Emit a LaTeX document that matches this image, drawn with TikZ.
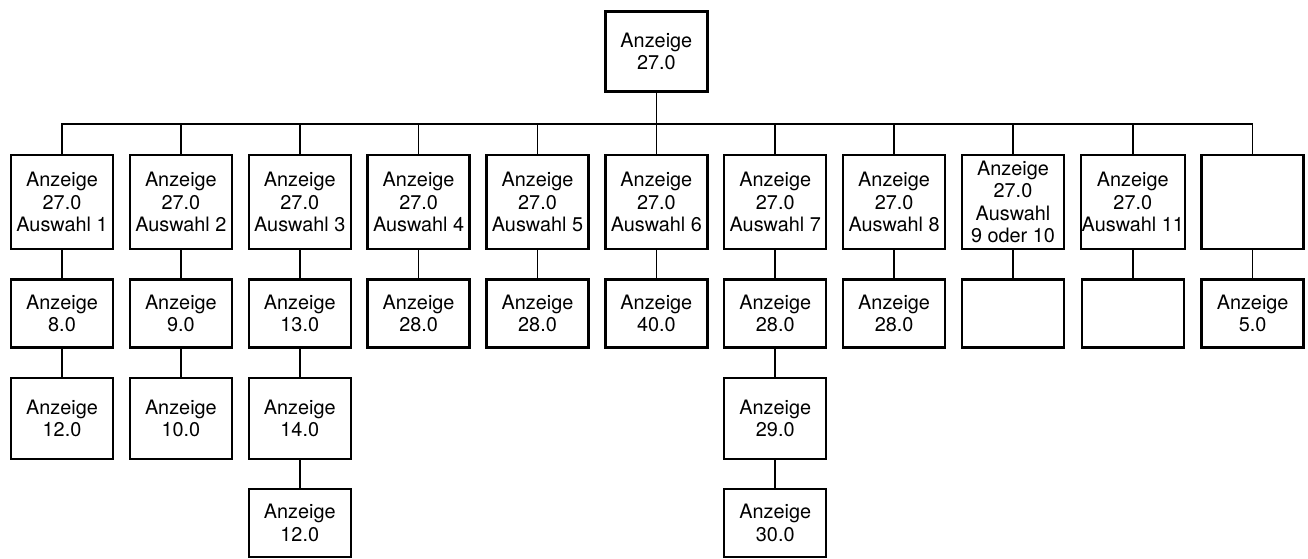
\documentclass[tikz,border=0pt]{standalone}
\usepackage{fontspec}
\setmainfont{TeX Gyre Heros}
\usetikzlibrary{positioning}

\begin{document}
\begin{tikzpicture}[
  font=\fontsize{11.3}{12.8}\selectfont,
  line width=0.9pt,
  node distance=0.56cm and 0.29cm,
  block/.style={draw, line width=1.35pt, minimum width=2.04cm, minimum height=1.36cm, inner sep=0.5pt, align=center},
  tall/.style={minimum height=1.88cm},
  mid/.style={minimum height=1.62cm},
]
\useasboundingbox (0,0) rectangle (26.16,-11.16);

% Row 1: Anzeige 27.0 with Auswahl 1 ... 11
\node[block, tall] (A1) at (1.24,-4.04) {Anzeige\\27.0\\Auswahl 1};
\node[block, tall, right=of A1]  (A2)  {Anzeige\\27.0\\Auswahl 2};
\node[block, tall, right=of A2]  (A3)  {Anzeige\\27.0\\Auswahl 3};
\node[block, tall, right=of A3]  (A4)  {Anzeige\\27.0\\Auswahl 4};
\node[block, tall, right=of A4]  (A5)  {Anzeige\\27.0\\Auswahl 5};
\node[block, tall, right=of A5]  (A6)  {Anzeige\\27.0\\Auswahl 6};
\node[block, tall, right=of A6]  (A7)  {Anzeige\\27.0\\Auswahl 7};
\node[block, tall, right=of A7]  (A8)  {Anzeige\\27.0\\Auswahl 8};
\node[block, tall, right=of A8]  (A9)  {Anzeige\\27.0\\Auswahl\\9 oder 10};
\node[block, tall, right=of A9]  (A10) {Anzeige\\27.0\\Auswahl 11};
\node[block, tall, right=of A10] (A11) {};

% Root
\node[block, minimum height=1.6cm, above=1.22cm of A6] (A0) {Anzeige\\27.0};

% Row 2
\node[block, below=of A1]  (B1)  {Anzeige\\8.0};
\node[block, below=of A2]  (B2)  {Anzeige\\9.0};
\node[block, below=of A3]  (B3)  {Anzeige\\13.0};
\node[block, below=of A4]  (B4)  {Anzeige\\28.0};
\node[block, below=of A5]  (B5)  {Anzeige\\28.0};
\node[block, below=of A6]  (B6)  {Anzeige\\40.0};
\node[block, below=of A7]  (B7)  {Anzeige\\28.0};
\node[block, below=of A8]  (B8)  {Anzeige\\28.0};
\node[block, below=of A9]  (B9)  {};
\node[block, below=of A10] (B10) {};
\node[block, below=of A11] (B11) {Anzeige\\5.0};

% Row 3
\node[block, mid, below=of B1] (C1) {Anzeige\\12.0};
\node[block, mid, below=of B2] (C2) {Anzeige\\10.0};
\node[block, mid, below=of B3] (C3) {Anzeige\\14.0};
\node[block, mid, below=of B7] (C7) {Anzeige\\29.0};

% Row 4
\node[block, below=of C3] (D3) {Anzeige\\12.0};
\node[block, below=of C7] (D7) {Anzeige\\30.0};

% Bus from the root
\coordinate[below=0.62cm of A0] (bus);
\draw (A0) -- (bus);
\draw (bus) -| (A1);
\draw (bus) -| (A2);
\draw (bus) -| (A3);
\draw (bus) -| (A4);
\draw (bus) -| (A5);
\draw (bus) -- (A6);
\draw (bus) -| (A7);
\draw (bus) -| (A8);
\draw (bus) -| (A9);
\draw (bus) -| (A10);
\draw (bus) -| (A11);

% Vertical links
\draw (A1) -- (B1);  \draw (B1) -- (C1);
\draw (A2) -- (B2);  \draw (B2) -- (C2);
\draw (A3) -- (B3);  \draw (B3) -- (C3);  \draw (C3) -- (D3);
\draw (A4) -- (B4);
\draw (A5) -- (B5);
\draw (A6) -- (B6);
\draw (A7) -- (B7);  \draw (B7) -- (C7);  \draw (C7) -- (D7);
\draw (A8) -- (B8);
\draw (A9) -- (B9);
\draw (A10) -- (B10);
\draw (A11) -- (B11);

\end{tikzpicture}
\end{document}
